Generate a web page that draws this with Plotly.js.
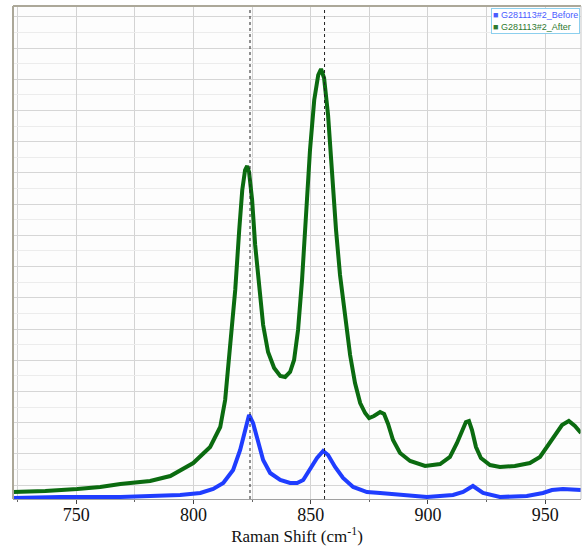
<!DOCTYPE html>
<html>
<head>
<meta charset="utf-8">
<script src="https://cdn.plot.ly/plotly-3.0.1.min.js"></script>
<style>html,body{margin:0;padding:0;background:#fff;}#chart{width:583px;height:546px;}</style>
</head>
<body>
<div id="chart"></div>
<script>
// Raman shift (cm-1) and intensities (arbitrary counts)
const afterShift = [723.1,736.8,750.4,760.2,768.8,781.5,790.1,794.3,799.9,807.1,811.4,813.5,815.6,817.8,819.5,820.8,822.0,822.9,823.7,825.0,826.3,828.0,829.7,831.8,834.4,837.0,839.1,841.2,842.9,844.6,846.3,848.0,849.7,851.5,853.2,854.4,855.7,857.4,859.1,860.8,862.5,864.7,866.8,868.9,871.1,873.2,874.9,877.0,879.6,881.3,883.0,885.1,888.1,892.4,898.8,905.2,909.4,912.4,914.5,916.2,917.5,918.8,920.5,922.6,926.5,930.7,937.1,943.5,947.8,950.8,954.2,957.2,960.1,962.7,965.3];
const afterIntensity = [1551,1615,1744,1872,2064,2256,2577,2962,3410,4436,5718,7449,10654,14500,18346,20910,22192,22448,22064,20269,17384,14500,12256,10525,9500,8987,8923,9243,10013,11936,15141,19307,23474,26679,28281,28666,28089,25717,21871,18346,15461,12577,10333,8538,7256,6615,6295,6423,6679,6551,5910,4885,4051,3538,3218,3346,3795,4692,5526,6038,6102,5526,4436,3731,3282,3154,3218,3410,3795,4436,5205,5846,6102,5782,5333];
const beforeShift = [723.1,743.2,768.8,785.8,794.3,802.9,808.4,812.7,816.9,819.9,822.0,823.7,825.4,827.6,829.7,832.7,837.0,841.2,844.2,846.8,849.7,852.7,855.3,857.4,860.4,863.8,868.1,874.0,879.6,888.1,899.6,910.7,915.0,919.2,923.5,930.7,936.3,942.2,949.1,952.9,957.6,965.3];
const beforeIntensity = [1167,1231,1231,1295,1359,1487,1744,2128,2962,4244,5526,6487,5974,4692,3603,2769,2321,2128,2128,2321,2962,3731,4179,3923,3154,2449,1872,1551,1487,1359,1231,1359,1551,1936,1487,1231,1231,1295,1487,1680,1744,1680];
const seriesNames = ['G281113#2_Before', 'G281113#2_After'];
const markerShifts = [824.1, 855.9];
const xTicks = [750, 800, 850, 900, 950];

const blue = '#1f3dff';
const green = '#0b6b10';

const traces = [
  {x: afterShift, y: afterIntensity, type: 'scatter', mode: 'lines', name: seriesNames[1],
   line: {color: green, width: 4}, showlegend: false},
  {x: beforeShift, y: beforeIntensity, type: 'scatter', mode: 'lines', name: seriesNames[0],
   line: {color: blue, width: 4}, showlegend: false}
];

const shapes = markerShifts.map(v => ({
  type: 'line', xref: 'x', yref: 'paper', x0: v, x1: v, y0: 0, y1: 1,
  line: {color: '#222', width: 1, dash: 'dot'}
}));
shapes.push({type:'line', xref:'paper', yref:'paper', x0:0, x1:1, y0:1, y1:1, line:{color:'#aca899', width:2}});
shapes.push({type:'line', xref:'paper', yref:'paper', x0:0, x1:0, y0:0, y1:1, line:{color:'#aca899', width:2}});
shapes.push({type:'line', xref:'paper', yref:'paper', x0:1, x1:1, y0:0, y1:1, line:{color:'#c8c8c8', width:1}});

const legendText =
  '<span style="color:#4a5cff">■ ' + seriesNames[0] + '</span><br>' +
  '<span style="color:#2f7a2f">■ ' + seriesNames[1] + '</span>';

const layout = {
  width: 583, height: 546,
  margin: {l: 13, r: 2, t: 6, b: 47},
  paper_bgcolor: '#ffffff',
  plot_bgcolor: '#fdfdfd',
  showlegend: false,
  xaxis: {
    range: [723, 965.3],
    tickvals: xTicks,
    ticks: 'outside', ticklen: 4, tickcolor: '#444', tickwidth: 1,
    ticklabelstandoff: -5,
    showgrid: true, gridcolor: '#d3d3d3', gridwidth: 1,
    minor: {dtick: 25, tick0: 725, ticks: 'outside', ticklen: 2, tickcolor: '#666', showgrid: true, gridcolor: '#d3d3d3'},
    showline: true, linecolor: '#a0a0a0', linewidth: 1,
    zeroline: false,
    tickfont: {family: 'Liberation Serif', size: 18, color: '#111'},
    title: {text: 'Raman Shift (cm<sup>-1</sup>)', font: {family: 'Liberation Serif', size: 17, color: '#111'}, standoff: 3}
  },
  yaxis: {
    range: [1103, 32704],
    dtick: 2000, tick0: 0,
    showticklabels: false, ticks: '',
    showgrid: true, gridcolor: '#d6d6d6', gridwidth: 1,
    minor: {dtick: 1000, tick0: 1000, showgrid: true, gridcolor: '#ececec'},
    zeroline: false, showline: false
  },
  shapes: shapes,
  annotations: [{
    xref: 'paper', yref: 'paper', x: 1, y: 1, xanchor: 'right', yanchor: 'top',
    xshift: -1, yshift: -2,
    text: legendText, align: 'left', showarrow: false,
    font: {family: 'Liberation Sans', size: 9},
    bgcolor: '#ffffff', bordercolor: '#8ccfee', borderwidth: 1, borderpad: 1
  }]
};

Plotly.newPlot('chart', traces, layout, {displayModeBar: false, staticPlot: true});
</script>
</body>
</html>
